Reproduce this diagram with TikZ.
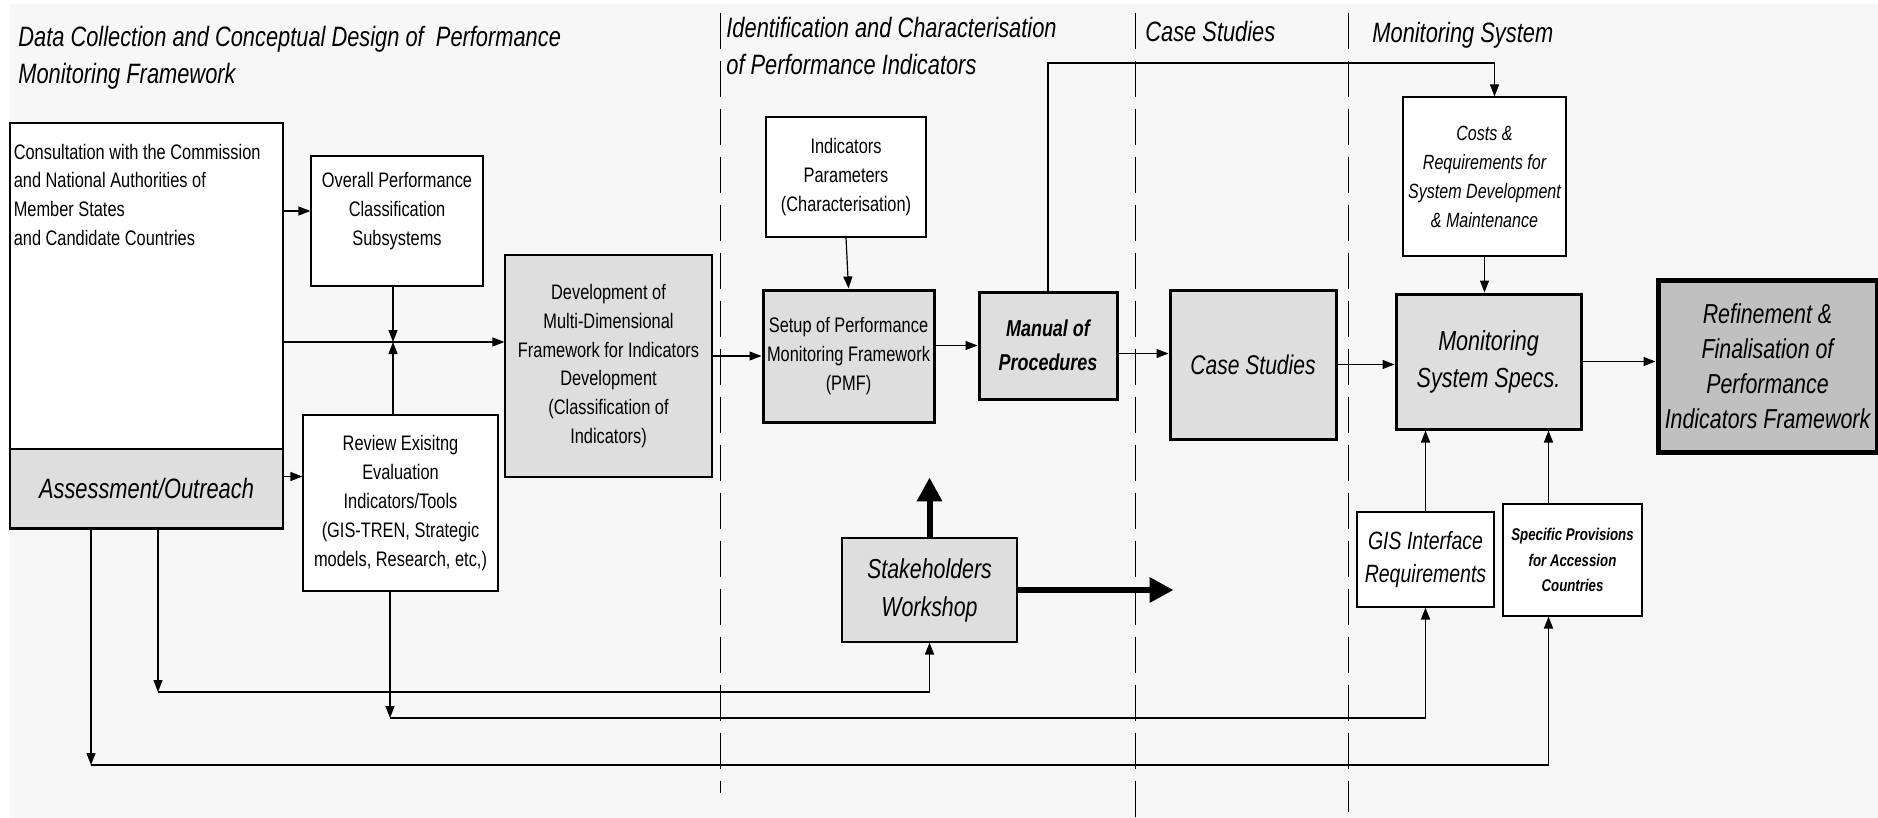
\documentclass[tikz,border=0pt]{standalone}
\usepackage{fontspec}
\setmainfont{Liberation Sans}[FakeStretch=0.78]
\usetikzlibrary{arrows.meta,calc}
\definecolor{pagebg}{RGB}{247,247,247}
\definecolor{boxfill}{RGB}{222,222,222}
\definecolor{finalfill}{RGB}{192,192,192}

\begin{document}
\begin{tikzpicture}[x=0.5pt, y=-0.5pt,
    boxsize/.style 2 args={minimum width=#1*0.5pt, minimum height=#2*0.5pt},
    box/.style={draw, line width=0.6pt, align=center, inner sep=0pt,
        font=\fontsize{10.5}{14.4}\selectfont},
    plainbox/.style={box, fill=white},
    shadebox/.style={box, fill=boxfill},
    heavybox/.style={box, fill=boxfill, line width=1.5pt},
    arr/.style={-{Triangle[length=6pt,width=4.5pt]}, line width=0.6pt},
    busarr/.style={arr, line width=0.9pt},
    bigarr/.style={-{Triangle[length=12pt,width=12pt]}, line width=3pt},
    phase/.style={dash pattern=on 18pt off 6pt, line width=0.5pt},
    heading/.style={align=left, inner sep=0pt, font=\fontsize{14}{18.5}\selectfont\itshape}]

    % Page
    \fill[white] (0,0) rectangle (1878,818);
    \fill[pagebg] (10,4) rectangle (1878,818);
    \useasboundingbox (0,0) rectangle (1878,818);

    % Phase separators
    \draw[phase] (720,13) -- (720,793);
    \draw[phase] (1135,13) -- (1135,818);
    \draw[phase] (1348,13) -- (1348,812);

    % Phase headings
    \node[heading, anchor=north west] (hdata) at (18,26) {Data Collection and Conceptual Design of\ \ Performance\\Monitoring Framework};
    \node[heading, anchor=north west] (hident) at (726,17) {Identification and Characterisation\\of Performance Indicators};
    \node[heading, anchor=base west] (hcase) at (1145,42) {Case Studies};
    \node[heading, anchor=base west] (hmon) at (1372,43) {Monitoring System};

    % Data collection
    \node[plainbox, boxsize={273}{326},
        label={[anchor=north west, xshift=2pt, yshift=-10.5pt, align=left, inner sep=0pt,
            font=\fontsize{10.5}{14.4}\selectfont]north west:Consultation with the Commission\\and National Authorities of\\Member States\\and Candidate Countries}]
        (consult) at (146.5,286) {};
    \node[shadebox, boxsize={273}{79}, font=\fontsize{14}{17}\selectfont\itshape] (assess) at (146.5,488.5) {Assessment/Outreach};
    \draw[line width=1.5pt] (assess.south west) -- (assess.south east);
    \node[plainbox, boxsize={172}{130}] (overall) at (397,221) {Overall Performance\\Classification\\Subsystems\\[-2pt]\mbox{}};
    \node[plainbox, boxsize={195}{176}] (review) at (400.5,503) {Review Exisitng\\Evaluation\\Indicators/Tools\\(GIS-TREN, Strategic\\models, Research, etc,)};
    \node[shadebox, boxsize={207}{222}] (dev) at (608.5,366) {Development of\\Multi-Dimensional\\Framework for Indicators\\Development\\(Classification of\\Indicators)};

    % Indicators
    \node[plainbox, boxsize={160}{120}] (indpar) at (846,177) {Indicators\\Parameters\\(Characterisation)};
    \node[heavybox, boxsize={171}{132}] (setup) at (848.5,356) {Setup of Performance\\Monitoring Framework\\(PMF)};
    \node[heavybox, boxsize={138}{107}, font=\fontsize{11.5}{17}\selectfont\bfseries\itshape] (manual) at (1048,345.5) {Manual of\\Procedures};
    \node[shadebox, boxsize={175}{104}, font=\fontsize{13.7}{19}\selectfont\itshape] (stake) at (929.5,590) {Stakeholders\\Workshop};

    % Case studies
    \node[heavybox, boxsize={166}{149}, font=\fontsize{13.5}{17}\selectfont\itshape] (casest) at (1253,364.5) {Case Studies};

    % Monitoring system
    \node[plainbox, boxsize={163}{159}, font=\fontsize{10.3}{14.5}\selectfont\itshape] (costs) at (1484.5,176.5) {Costs \&\\Requirements for\\System Development\\\& Maintenance};
    \node[heavybox, boxsize={185}{135}, font=\fontsize{13.8}{18.5}\selectfont\itshape] (monit) at (1488.5,361.5) {Monitoring\\System Specs.};
    \node[plainbox, boxsize={137}{95}, font=\fontsize{12.5}{16.5}\selectfont\itshape] (gis) at (1425.5,559.5) {GIS Interface\\Requirements};
    \node[plainbox, boxsize={139}{112}, font=\fontsize{8.5}{12.7}\selectfont\bfseries\itshape] (spec) at (1572.5,560) {Specific Provisions\\for Accession\\Countries};
    \node[box, fill=finalfill, line width=2.5pt, boxsize={219}{172}, font=\fontsize{13.7}{17.5}\selectfont\itshape] (refine) at (1767.5,366) {Refinement \&\\Finalisation of\\Performance\\Indicators Framework};

    % Links in the first phase
    \coordinate (junc) at (393,342);
    \draw[arr] ([yshift=5pt]consult.east |- overall.west) -- ([yshift=5pt]overall.west);
    \draw[arr] (consult.east |- junc) -- (dev.west |- junc);
    \draw[arr] (junc |- overall.south) -- (junc);
    \draw[arr] (junc |- review.north) -- (junc);
    \draw[arr] ([yshift=6pt]assess.east) -- ([yshift=6pt]assess.east -| review.west);

    % Main chain
    \draw[arr] (dev.east |- setup.west) -- (setup.west);
    \draw[arr] (indpar.south) -- (setup.north);
    \draw[arr] (setup.east |- manual.west) -- (manual.west);
    \draw[arr] ([yshift=-4pt]manual.east) -- ([yshift=-4pt]manual.east -| casest.west);
    \draw[arr] (casest.east) -- (casest.east -| monit.west);
    \draw[arr] (monit.east) -- (monit.east -| refine.west);
    \draw[arr] (costs.south) -- (costs.south |- monit.north);
    \coordinate (toprow) at (0,63);
    \draw[arr] (manual.north) |- ([xshift=5pt]costs.north |- toprow) -- ([xshift=5pt]costs.north);
    \draw[arr] (gis.north) -- (gis.north |- monit.south);
    \draw[arr] ([xshift=-12pt]spec.north) -- ([xshift=-12pt]spec.north |- monit.south);

    % Workshop outputs
    \draw[bigarr] (stake.north) -- ++(0,-60);
    \draw[bigarr] (stake.east) -- ++(156,0);

    % Feedback lines
    \coordinate (busA) at (158,692);
    \coordinate (busB) at (390,718);
    \coordinate (busC) at (91,765);
    \draw[arr] (busA |- assess.south) -- (busA);
    \draw[busarr] (busA) -| (stake.south);
    \draw[arr] (busB |- review.south) -- (busB);
    \draw[busarr] (busB) -| (gis.south);
    \draw[arr] (busC |- assess.south) -- (busC);
    \draw[busarr] (busC) -| ([xshift=-12pt]spec.south);
\end{tikzpicture}
\end{document}
